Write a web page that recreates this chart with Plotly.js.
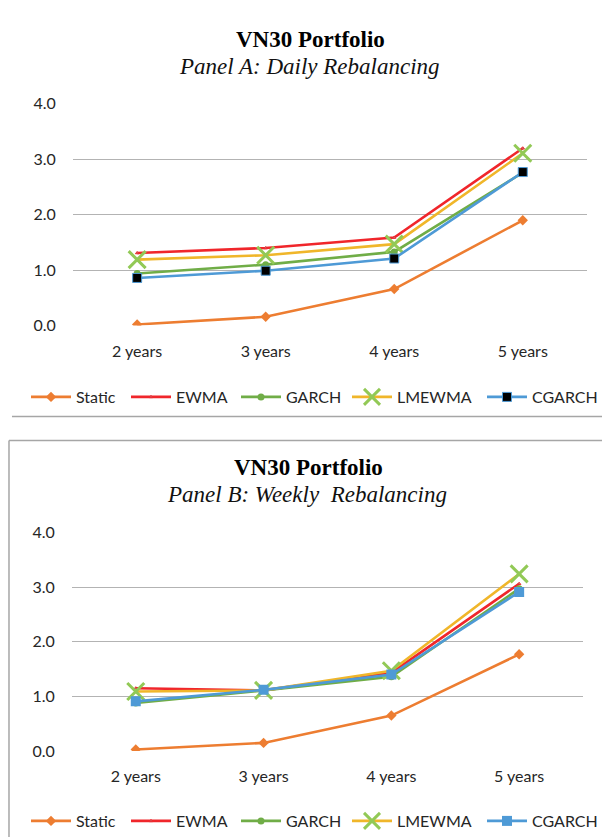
<!DOCTYPE html>
<html>
<head>
<meta charset="utf-8">
<script src="https://cdn.plot.ly/plotly-3.0.1.min.js"></script>
<style>html,body{margin:0;padding:0;background:#fff}#chart{width:603px;height:838px}</style>
</head>
<body>
<div id="chart"></div>
<script>
const categories = ["2 years", "3 years", "4 years", "5 years"];
const seriesNames = ["Static", "EWMA", "GARCH", "LMEWMA", "CGARCH"];

// Panel A: Daily Rebalancing
const dailyStatic = [0.02, 0.16, 0.66, 1.90];
const dailyEWMA   = [1.31, 1.40, 1.59, 3.20];
const dailyGARCH  = [0.94, 1.10, 1.33, 2.76];
const dailyLMEWMA = [1.19, 1.27, 1.47, 3.11];
const dailyCGARCH = [0.86, 0.99, 1.21, 2.77];

// Panel B: Weekly Rebalancing
const weeklyStatic = [0.03, 0.15, 0.65, 1.77];
const weeklyEWMA   = [1.15, 1.11, 1.43, 3.06];
const weeklyGARCH  = [0.88, 1.11, 1.36, 2.97];
const weeklyLMEWMA = [1.09, 1.11, 1.47, 3.24];
const weeklyCGARCH = [0.91, 1.12, 1.40, 2.91];

const W = 603, H = 838;
const fy = p => 1 - p / H;
const fx = p => p / W;

const colors = {
  Static: "#ED7D31", EWMA: "#F0262B", GARCH: "#70AD47", LMEWMA: "#F0B62A", CGARCH: "#4E9AD6"
};

// legend entry left positions (px) for each series
const legendX = [26, 126, 236, 347, 483];

function makeTraces(data, suffix, legendOffset, cgarchBlack) {
  const [st, ew, ga, lm, cg] = data;
  const base = {x: categories, mode: "lines+markers", type: "scatter", showlegend: true,
                xaxis: "x" + suffix, yaxis: "y" + suffix, hoverinfo: "skip"};
  const lg = i => { const n = legendOffset + i; return n === 1 ? "legend" : "legend" + n; };
  return [
    Object.assign({}, base, {name: "Static", legend: lg(0), y: st, line: {color: colors.Static, width: 2.6},
      marker: {symbol: "diamond", size: 8, color: colors.Static}}),
    Object.assign({}, base, {name: "EWMA", legend: lg(1), y: ew, line: {color: colors.EWMA, width: 2.6},
      marker: {symbol: "triangle-up", size: 3, color: "#999999", line: {color: colors.EWMA, width: 1}}}),
    Object.assign({}, base, {name: "GARCH", legend: lg(2), y: ga, line: {color: colors.GARCH, width: 2.6},
      marker: {symbol: "circle", size: 7, color: colors.GARCH}}),
    Object.assign({}, base, {name: "LMEWMA", legend: lg(3), y: lm, line: {color: colors.LMEWMA, width: 2.6},
      marker: {symbol: "x-thin-open", size: 17, color: "#92C956", line: {color: "#92C956", width: 3}}}),
    Object.assign({}, base, {name: "CGARCH", legend: lg(4), y: cg, line: {color: colors.CGARCH, width: 2.6},
      marker: {symbol: "square", size: cgarchBlack ? 9 : 10,
               color: cgarchBlack ? "#000000" : colors.CGARCH,
               line: {color: colors.CGARCH, width: cgarchBlack ? 1 : 0}}})
  ];
}

const traces = [
  ...makeTraces([dailyStatic, dailyEWMA, dailyGARCH, dailyLMEWMA, dailyCGARCH], "", 1, true),
  ...makeTraces([weeklyStatic, weeklyEWMA, weeklyGARCH, weeklyLMEWMA, weeklyCGARCH], "2", 6, false)
];

const tickFont = {family: "Lato, 'Open Sans', sans-serif", size: 16, color: "#262626"};
const xBase = {type: "category", range: [-0.5, 3.5], showgrid: false, zeroline: false,
  showline: false, ticks: "", tickfont: tickFont, ticklabelstandoff: 14, fixedrange: true};
const yBase = {range: [0, 4], dtick: 1, tickformat: ".1f", showgrid: true, gridcolor: "#B3B3B3",
  gridwidth: 1, zeroline: false, showline: false, ticks: "", tickfont: tickFont, fixedrange: true,
  ticklabelstandoff: 16};

const legendBase = {orientation: "h", xanchor: "left", yanchor: "middle", visible: true,
  font: {family: "Lato, 'Open Sans', sans-serif", size: 16, color: "#262626"},
  bgcolor: "rgba(0,0,0,0)", itemwidth: 40, borderwidth: 0};

const titleFont = {family: "'Liberation Serif', 'Times New Roman', serif", size: 23, color: "#000"};
const subFont = {family: "'Liberation Serif', 'Times New Roman', serif", size: 23, color: "#111"};

const layout = {
  width: W, height: H,
  showlegend: true,
  margin: {l: 0, r: 0, t: 0, b: 0},
  paper_bgcolor: "#ffffff", plot_bgcolor: "#ffffff",
  xaxis: Object.assign({}, xBase, {anchor: "y", domain: [fx(73), fx(588)]}),
  yaxis: Object.assign({}, yBase, {anchor: "x", domain: [fy(326), fy(104)]}),
  xaxis2: Object.assign({}, xBase, {anchor: "y2", domain: [fx(72), fx(584)]}),
  yaxis2: Object.assign({}, yBase, {anchor: "x2", domain: [fy(752), fy(533)]}),
  annotations: [
    {text: "<b>VN30 Portfolio</b>", xref: "paper", yref: "paper", x: fx(311), y: fy(40),
     xanchor: "center", yanchor: "middle", showarrow: false, font: titleFont},
    {text: "<i>Panel A: Daily Rebalancing</i>", xref: "paper", yref: "paper", x: fx(310), y: fy(67),
     xanchor: "center", yanchor: "middle", showarrow: false, font: subFont},
    {text: "<b>VN30 Portfolio</b>", xref: "paper", yref: "paper", x: fx(309), y: fy(468),
     xanchor: "center", yanchor: "middle", showarrow: false, font: titleFont},
    {text: "<i>Panel B: Weekly  Rebalancing</i>", xref: "paper", yref: "paper", x: fx(308), y: fy(495),
     xanchor: "center", yanchor: "middle", showarrow: false, font: subFont}
  ],
  shapes: [
    {type: "line", xref: "paper", yref: "paper", x0: fx(12), x1: 1, y0: fy(417), y1: fy(417),
     line: {color: "#A6A6A6", width: 1.5}},
    {type: "line", xref: "paper", yref: "paper", x0: fx(9), x1: 1, y0: fy(441), y1: fy(441),
     line: {color: "#A6A6A6", width: 1.5}},
    {type: "line", xref: "paper", yref: "paper", x0: fx(9), x1: fx(9), y0: fy(441), y1: 0,
     line: {color: "#A6A6A6", width: 1.5}}
  ]
};

for (let i = 0; i < 5; i++) {
  const keyA = i === 0 ? "legend" : "legend" + (i + 1);
  const keyB = "legend" + (i + 6);
  layout[keyA] = Object.assign({}, legendBase, {x: fx(legendX[i]), y: fy(397)});
  layout[keyB] = Object.assign({}, legendBase, {x: fx(legendX[i]), y: fy(822)});
}

Plotly.newPlot("chart", traces, layout, {staticPlot: true, displayModeBar: false});
</script>
</body>
</html>
